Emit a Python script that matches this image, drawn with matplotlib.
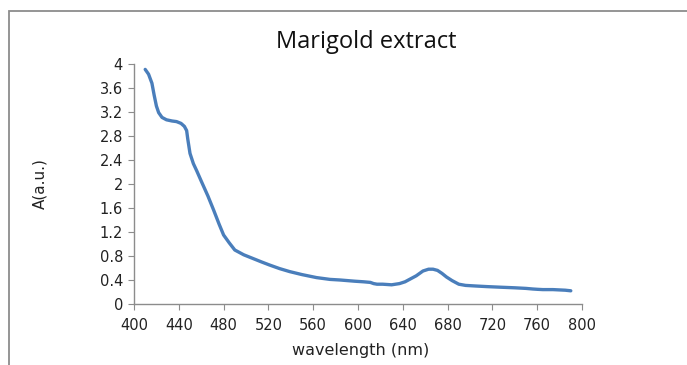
import matplotlib
matplotlib.use("Agg")
import matplotlib.pyplot as plt
from matplotlib.patches import Rectangle

wavelength = [410, 413, 416, 418, 420, 422, 425, 429, 434, 438, 442, 445, 447, 448,
              450, 453, 456, 460, 466, 471, 476, 480, 485, 490, 498, 506, 514, 521,
              530, 539, 550, 563, 575, 584, 597, 605, 611, 614, 617, 622, 630, 637,
              642, 646, 652, 658, 663, 667, 671, 675, 679, 684, 690, 696, 705, 715,
              727, 740, 750, 756, 760, 765, 774, 785, 790]
absorbance = [3.91, 3.83, 3.68, 3.48, 3.30, 3.19, 3.11, 3.07, 3.05, 3.04, 3.01, 2.96, 2.89, 2.75,
              2.51, 2.34, 2.22, 2.05, 1.80, 1.57, 1.33, 1.15, 1.02, 0.90, 0.82, 0.76, 0.70, 0.65,
              0.59, 0.54, 0.49, 0.44, 0.41, 0.40, 0.38, 0.37, 0.36, 0.34, 0.33, 0.33, 0.32, 0.34,
              0.37, 0.41, 0.47, 0.55, 0.58, 0.58, 0.56, 0.51, 0.45, 0.39, 0.33, 0.31, 0.30, 0.29,
              0.28, 0.27, 0.26, 0.25, 0.245, 0.24, 0.24, 0.23, 0.22]

x_ticks = [400, 440, 480, 520, 560, 600, 640, 680, 720, 760, 800]
y_ticks = [0, 0.4, 0.8, 1.2, 1.6, 2, 2.4, 2.8, 3.2, 3.6, 4]
y_ticklabels = ["0", "0.4", "0.8", "1.2", "1.6", "2", "2.4", "2.8", "3.2", "3.6", "4"]

fig = plt.figure(figsize=(6.87, 3.65), dpi=100)
fig.patch.set_facecolor("white")

# outer chart border (extends past right/bottom edges)
fig.add_artist(Rectangle((8.5 / 687, -0.1), 1.0, (365 - 10.5) / 365 + 0.1,
                         transform=fig.transFigure, fill=False,
                         edgecolor="#8c8c8c", linewidth=1.3))

ax = fig.add_axes([134 / 687, (365 - 304) / 365, 448 / 687, 240 / 365])
ax.plot(wavelength, absorbance, color="#4a7ebb", linewidth=2.4,
        solid_capstyle="round", solid_joinstyle="round")

ax.set_xlim(400, 800)
ax.set_ylim(0, 4)
ax.set_xticks(x_ticks)
ax.set_yticks(y_ticks)
ax.set_yticklabels(y_ticklabels)

for s in ["top", "right"]:
    ax.spines[s].set_visible(False)
for s in ["left", "bottom"]:
    ax.spines[s].set_color("#8c8c8c")
    ax.spines[s].set_linewidth(1.0)

ax.tick_params(axis="both", direction="out", length=4, color="#8c8c8c",
               labelsize=10.5, labelcolor="#222222")
ax.tick_params(axis="x", pad=6)
ax.tick_params(axis="y", pad=4)

fig.text(366 / 687, 1 - 42 / 365, "Marigold extract", ha="center", va="center",
         fontsize=17, family="Open Sans", color="#111111")
fig.text(361 / 687, 1 - 350 / 365, "wavelength (nm)", ha="center", va="center",
         fontsize=11.5, family="DejaVu Sans", color="#222222")
fig.text(40 / 687, 1 - 184 / 365, "A(a.u.)", ha="center", va="center",
         rotation=90, fontsize=11, family="DejaVu Sans", color="#222222")

fig.savefig("out.png", dpi=100)
